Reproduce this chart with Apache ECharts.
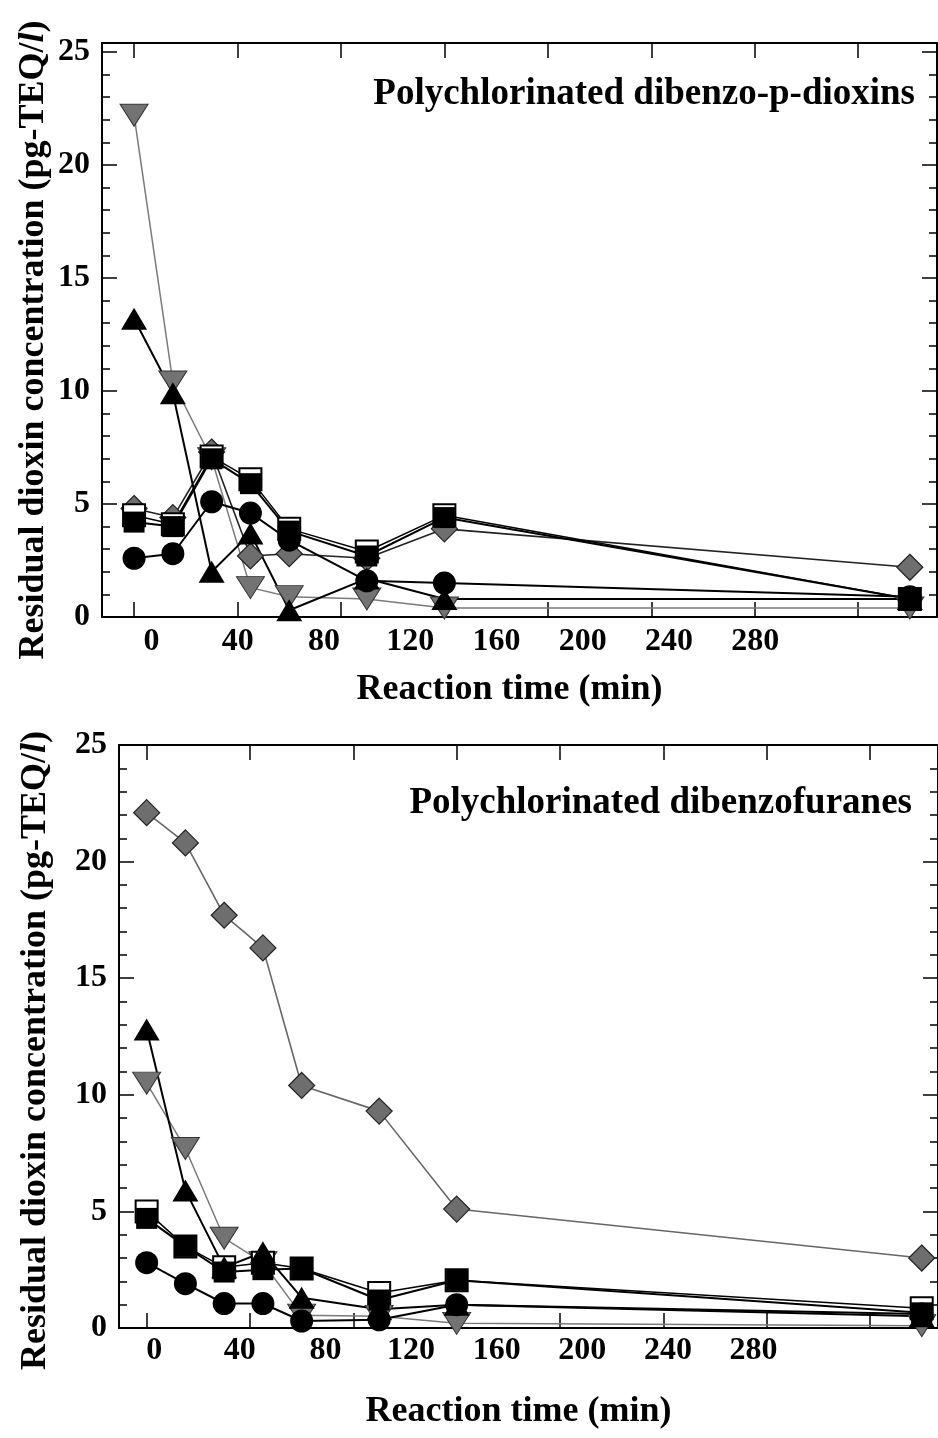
<!DOCTYPE html>
<html>
<head>
<meta charset="utf-8">
<script src="https://cdn.jsdelivr.net/npm/echarts@6/dist/echarts.min.js"></script>
<style>
html,body{margin:0;padding:0;background:#fff;}
#chart{width:938px;height:1438px;}
</style>
</head>
<body>
<div id="chart"></div>
<script>
// ---- data ----
var times = [0, 15, 30, 45, 60, 90, 120, 300];
var xTickLabels = [0, 40, 80, 120, 160, 200, 240, 280];
var yTickLabels = [0, 5, 10, 15, 20, 25];
var yMinorTicks = [1,2,3,4,6,7,8,9,11,12,13,14,16,17,18,19,21,22,23,24];

// Polychlorinated dibenzo-p-dioxins (top panel)
var pcddCircle   = [2.6, 2.8, 5.1, 4.6, 3.4, 1.6, 1.5, 0.9];
var pcddOpenSq   = [4.5, 4.1, 7.1, 6.1, 3.9, 2.9, 4.5, 0.8];
var pcddFilledSq = [4.2, 4.0, 7.0, 5.9, 3.8, 2.7, 4.4, 0.8];
var pcddTriangle = [13.2, 9.9, 2.0, 3.7, 0.3, 1.7, 0.8, 0.8];
var pcddInvTri   = [22.2, 10.4, 7.0, 1.3, 0.9, 0.8, 0.4, 0.4];
var pcddDiamond  = [4.8, 4.4, 7.3, 2.7, 2.8, 2.6, 3.9, 2.2];

// Polychlorinated dibenzofuranes (bottom panel)
var pcdfCircle   = [2.8, 1.9, 1.05, 1.05, 0.3, 0.35, 1.0, 0.6];
var pcdfOpenSq   = [5.0, 3.5, 2.6, 2.8, 2.55, 1.5, 2.05, 0.85];
var pcdfFilledSq = [4.7, 3.5, 2.4, 2.5, 2.55, 1.2, 2.05, 0.65];
var pcdfTriangle = [12.8, 5.9, 2.6, 3.25, 1.3, 0.8, 1.0, 0.5];
var pcdfInvTri   = [10.5, 7.7, 3.85, 2.8, 0.55, 0.5, 0.2, 0.1];
var pcdfDiamond  = [22.1, 20.8, 17.7, 16.3, 10.4, 9.3, 5.1, 3.0];

// ---- styling / build ----
var FONT = '"Liberation Serif", "Times New Roman", serif';
var FS = 32;      // tick labels
var FN = 36;      // axis names
var FT = 37;      // panel titles

function pairs(vals){ return times.map(function(t,i){ return [t, vals[i]]; }); }

var chart = echarts.init(document.getElementById('chart'), null, {renderer:'canvas'});

var grids = [
  {left:102, top:43, width:835, height:574},
  {left:119, top:745, width:821, height:583}
];
var dataX = [[-12.4, 310.5], [-10.7, 306.3]];
var labelX = [[-22.9, 364.3], [-16.45, 366.2]];
var yMax = [25.4, 25];

var xAxes = [], yAxes = [];
[0,1].forEach(function(g){
  // data axis (ticks only)
  xAxes.push({type:'value', gridIndex:g, position:'bottom', min:dataX[g][0], max:dataX[g][1],
    axisLine:{show:true, onZero:false, lineStyle:{color:'#000', width:2}},
    axisTick:{show:true, inside:true, length:15, customValues:xTickLabels, lineStyle:{color:'#000', width:1.5}},
    axisLabel:{show:false}, splitLine:{show:false}});
  // label axis
  xAxes.push({type:'value', gridIndex:g, position:'bottom', min:labelX[g][0], max:labelX[g][1],
    axisLine:{show:false, onZero:false}, axisTick:{show:false}, splitLine:{show:false},
    axisLabel:{show:true, customValues:xTickLabels, margin:g===0?9:7, color:'#000', fontFamily:FONT, fontWeight:'bold', fontSize:FS},
    name:'Reaction time (min)', nameLocation:'middle', nameGap:g===0?55:66, nameMoveOverlap:false,
    nameTextStyle:{color:'#000', fontFamily:FONT, fontWeight:'bold', fontSize:FN, padding:[0,20,0,0]}});
  // top border axis
  xAxes.push({type:'value', gridIndex:g, position:'top', min:dataX[g][0], max:dataX[g][1],
    axisLine:{show:true, onZero:false, lineStyle:{color:'#000', width:2}},
    axisTick:{show:true, inside:true, length:15, customValues:xTickLabels, lineStyle:{color:'#000', width:1.5}},
    axisLabel:{show:false}, splitLine:{show:false}});

  var yname = 'Residual dioxin concentration (pg-TEQ/{i|l})';
  // left major
  yAxes.push({type:'value', gridIndex:g, position:'left', min:0, max:yMax[g],
    axisLine:{show:true, onZero:false, lineStyle:{color:'#000', width:2}},
    axisTick:{show:true, inside:true, length:15, customValues:yTickLabels, lineStyle:{color:'#000', width:1.5}},
    axisLabel:{show:true, customValues:yTickLabels, margin:12, color:'#000', fontFamily:FONT, fontWeight:'bold', fontSize:FS},
    splitLine:{show:false},
    name:yname, nameLocation:'middle', nameGap:g===0?50:65, nameRotate:90, nameMoveOverlap:false,
    nameTextStyle:{color:'#000', fontFamily:FONT, fontWeight:'bold', fontSize:FN, padding:[0, g===0?20:28, 0, 0],
      rich:{i:{fontStyle:'italic', fontWeight:'bold', fontFamily:FONT, fontSize:FN, color:'#000'}}}});
  // left minor
  yAxes.push({type:'value', gridIndex:g, position:'left', min:0, max:yMax[g],
    axisLine:{show:false, onZero:false},
    axisTick:{show:true, inside:true, length:8, customValues:yMinorTicks, lineStyle:{color:'#000', width:1.5}},
    axisLabel:{show:false}, splitLine:{show:false}});
  // right major
  yAxes.push({type:'value', gridIndex:g, position:'right', min:0, max:yMax[g],
    axisLine:{show:true, onZero:false, lineStyle:{color:'#000', width:2}},
    axisTick:{show:true, inside:true, length:15, customValues:yTickLabels, lineStyle:{color:'#000', width:1.5}},
    axisLabel:{show:false}, splitLine:{show:false}});
  // right minor
  yAxes.push({type:'value', gridIndex:g, position:'right', min:0, max:yMax[g],
    axisLine:{show:false, onZero:false},
    axisTick:{show:true, inside:true, length:8, customValues:yMinorTicks, lineStyle:{color:'#000', width:1.5}},
    axisLabel:{show:false}, splitLine:{show:false}});
});

function mk(name, vals, g, opt){
  return {
    name:name, type:'line', xAxisIndex: g*3, yAxisIndex: g*4, data:pairs(vals),
    symbol:opt.symbol, symbolSize:opt.size, symbolRotate:opt.rotate||0, showSymbol:true,
    animation:false, silent:true, z: opt.z || 2,
    lineStyle:{color:opt.line, width:opt.lw},
    itemStyle:{color:opt.fill, borderColor:opt.border, borderWidth:opt.bw}
  };
}

var series = [];
[[pcddDiamond, pcddInvTri, pcddOpenSq, pcddFilledSq, pcddCircle, pcddTriangle, '#222'],
 [pcdfDiamond, pcdfInvTri, pcdfOpenSq, pcdfFilledSq, pcdfCircle, pcdfTriangle, '#666']].forEach(function(set, g){
  series.push(mk('diamond', set[0], g, {symbol:'diamond', size:[26,26], line:set[6], lw:1.6, fill:'#6e6e6e', border:'#222', bw:1.2}));
  series.push(mk('invtri', set[1], g, {symbol:'triangle', rotate:180, size:[28,22], line:'#7a7a7a', lw:1.5, fill:'#737373', border:'#333', bw:1}));
  series.push(mk('opensq', set[2], g, {symbol:'rect', size:[22,22], line:'#000', lw:1.5, fill:'#fff', border:'#000', bw:2}));
  series.push(mk('filledsq', set[3], g, {symbol:'rect', size:[21,21], line:'#000', lw:2, fill:'#000', border:'#000', bw:0}));
  series.push(mk('circle', set[4], g, {symbol:'circle', size:23, line:'#000', lw:2, fill:'#000', border:'#000', bw:0}));
  series.push(mk('triangle', set[5], g, {symbol:'triangle', size:[26,22], line:'#000', lw:2, fill:'#000', border:'#000', bw:0}));
});

chart.setOption({
  backgroundColor:'#fff',
  animation:false,
  title:[
    {text:'Polychlorinated dibenzo-p-dioxins', right:18, top:71,
     textStyle:{color:'#000', fontFamily:FONT, fontWeight:'bold', fontSize:FT}},
    {text:'Polychlorinated dibenzofuranes', right:21, top:780,
     textStyle:{color:'#000', fontFamily:FONT, fontWeight:'bold', fontSize:FT}}
  ],
  grid:grids,
  xAxis:xAxes,
  yAxis:yAxes,
  series:series
});
</script>
</body>
</html>
